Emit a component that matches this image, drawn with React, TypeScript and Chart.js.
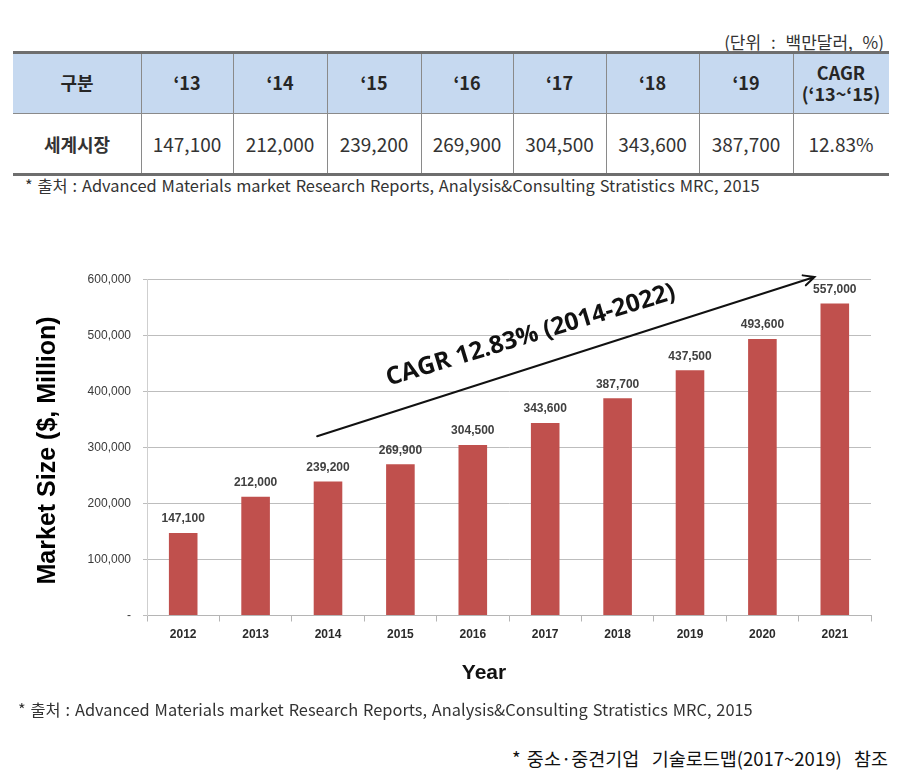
import React, { useEffect, useRef } from 'react';
import { Chart, registerables } from 'chart.js';

Chart.register(...registerables);

// ---------- data ----------
const unitNote = '(단위 : 백만달러, %)';
const tableHeader = ['구분', '‘13', '‘14', '‘15', '‘16', '‘17', '‘18', '‘19', 'CAGR\n(‘13~‘15)'];
const tableRowLabel = '세계시장';
const tableValues = ['147,100', '212,000', '239,200', '269,900', '304,500', '343,600', '387,700', '12.83%'];
const sourceNote = '* 출처 : Advanced Materials market Research Reports, Analysis&Consulting Stratistics MRC, 2015';
const refNote = '* 중소·중견기업  기술로드맵(2017~2019)  참조';

const years = ['2012', '2013', '2014', '2015', '2016', '2017', '2018', '2019', '2020', '2021'];
const marketSize = [147100, 212000, 239200, 269900, 304500, 343600, 387700, 437500, 493600, 557000];
const yAxisTitle = 'Market Size ($, Million)';
const xAxisTitle = 'Year';
const yMin = 0;
const yMax = 600000;
const yStep = 100000;
const cagrLabel = 'CAGR 12.83% (2014-2022)';
// annotation anchors in data space: [category index, value]
const cagrArrowStart = [1.85, 320000];
const cagrArrowEnd = [8.72, 604000];
const cagrLabelAt = [4.8, 500000];

// ---------- layout ----------
const colEdges = [13, 141, 233, 327, 421, 513, 606, 699, 793, 889];
const KR = '"Noto Sans CJK KR", "Noto Sans", sans-serif';
const BAR = '#C0504D';

const annotatePlugin = {
  id: 'annotate',
  afterDatasetsDraw(chart: any) {
    const { ctx, chartArea } = chart;
    const xs = chart.scales.x;
    const ys = chart.scales.y;
    ctx.save();
    // value labels
    const meta = chart.getDatasetMeta(0);
    ctx.font = 'bold 12px "Liberation Sans", Arial, sans-serif';
    ctx.fillStyle = '#404040';
    ctx.textAlign = 'center';
    ctx.textBaseline = 'middle';
    meta.data.forEach((bar: any, i: number) => {
      ctx.fillText(marketSize[i].toLocaleString('en-US'), bar.x, bar.y - 14);
    });
    // arrow
    const x1 = xs.getPixelForValue(cagrArrowStart[0]);
    const y1 = ys.getPixelForValue(cagrArrowStart[1]);
    const x2 = xs.getPixelForValue(cagrArrowEnd[0]);
    const y2 = ys.getPixelForValue(cagrArrowEnd[1]);
    const ang = Math.atan2(y2 - y1, x2 - x1);
    ctx.strokeStyle = '#111';
    ctx.lineWidth = 2;
    ctx.lineCap = 'round';
    ctx.beginPath();
    ctx.moveTo(x1, y1);
    ctx.lineTo(x2, y2);
    const hl = 12;
    ctx.moveTo(x2 - hl * Math.cos(ang - 0.45), y2 - hl * Math.sin(ang - 0.45));
    ctx.lineTo(x2, y2);
    ctx.lineTo(x2 - hl * Math.cos(ang + 0.45), y2 - hl * Math.sin(ang + 0.45));
    ctx.stroke();
    // CAGR label
    const lx = xs.getPixelForValue(cagrLabelAt[0]);
    const ly = ys.getPixelForValue(cagrLabelAt[1]);
    ctx.translate(lx, ly);
    ctx.rotate(ang + 0.015);
    ctx.font = 'bold 24.5px "Open Sans", sans-serif';
    ctx.fillStyle = '#111';
    ctx.fillText(cagrLabel, 0, 0);
    ctx.restore();

    // axis titles
    ctx.save();
    ctx.fillStyle = '#000';
    ctx.textAlign = 'center';
    ctx.textBaseline = 'middle';
    ctx.font = 'bold 25px "Liberation Sans", Arial, sans-serif';
    ctx.translate(48, (chartArea.top + chartArea.bottom) / 2 + 3);
    ctx.rotate(-Math.PI / 2);
    ctx.fillText(yAxisTitle, 0, 0);
    ctx.restore();
    ctx.save();
    ctx.fillStyle = '#111';
    ctx.textAlign = 'center';
    ctx.textBaseline = 'middle';
    ctx.font = 'bold 21px "Liberation Sans", Arial, sans-serif';
    ctx.fillText(xAxisTitle, 484, 433);
    ctx.restore();
  },
};

function BarChart() {
  const ref = useRef<HTMLCanvasElement>(null);
  useEffect(() => {
    if (!ref.current) return;
    const chart = new Chart(ref.current, {
      type: 'bar',
      data: {
        labels: years,
        datasets: [
          {
            data: marketSize,
            backgroundColor: BAR,
            borderWidth: 0,
            barPercentage: 0.395,
            categoryPercentage: 1.0,
          },
        ],
      },
      options: {
        responsive: false,
        animation: false,
        layout: { padding: { left: 0, right: 45, top: 39.3, bottom: 0 } },
        plugins: { legend: { display: false }, tooltip: { enabled: false } },
        scales: {
          x: {
            afterFit: (s: any) => {
              s.height = 84.5;
            },
            grid: { drawOnChartArea: false, drawTicks: true, tickLength: 6, color: '#b5b5b5', offset: true },
            border: { display: true, color: '#b5b5b5' },
            ticks: {
              color: '#2a2a2a',
              padding: 6,
              font: { family: '"Liberation Sans", Arial, sans-serif', size: 12, weight: 'bold' },
            },
          },
          y: {
            min: yMin,
            max: yMax,
            afterFit: (s: any) => {
              s.width = 147;
            },
            grid: { color: '#bdbdbd', tickLength: 4, drawTicks: true },
            border: { display: true, color: '#cfcfcf' },
            ticks: {
              stepSize: yStep,
              padding: 12,
              color: '#3a3a3a',
              font: { family: '"Liberation Sans", Arial, sans-serif', size: 12 },
              callback: (v: any) => (Number(v) === 0 ? '-' : Number(v).toLocaleString('en-US')),
            },
          },
        },
      },
      plugins: [annotatePlugin],
    });
    return () => chart.destroy();
  }, []);
  return (
    <canvas
      ref={ref}
      width={916}
      height={460}
      style={{ position: 'absolute', left: 0, top: 240, width: 916, height: 460 }}
    />
  );
}

function Txt(props: {
  x: number;
  y: number;
  size: number;
  bold?: boolean;
  align?: 'left' | 'right';
  ws?: number;
  children: any;
  color?: string;
}) {
  const { x, y, size, bold, align = 'left', ws = 0, color = '#333' } = props;
  const lh = size * 1.3;
  const style: any = {
    position: 'absolute',
    top: y - lh / 2,
    fontSize: size,
    lineHeight: lh + 'px',
    fontWeight: bold ? 700 : 400,
    color,
    whiteSpace: 'pre',
    wordSpacing: ws,
    fontFamily: KR,
  };
  if (align === 'left') style.left = x;
  else style.right = 916 - x;
  return <div style={style}>{props.children}</div>;
}

function DataTable() {
  const top = 52;
  const mid = 113;
  const bottom = 174;
  const left = colEdges[0];
  const right = colEdges[colEdges.length - 1];
  const cells: any[] = [];
  cells.push(
    <div key="hbg" style={{ position: 'absolute', left, top, width: right - left, height: mid - top, background: '#c6d9f0' }} />
  );
  colEdges.slice(1, -1).forEach((x, i) => {
    cells.push(<div key={'v' + i} style={{ position: 'absolute', left: x, top, width: 1, height: bottom - top, background: '#8a8a8a' }} />);
  });
  cells.push(<div key="hm" style={{ position: 'absolute', left, top: mid, width: right - left, height: 1, background: '#8a8a8a' }} />);
  cells.push(<div key="ht" style={{ position: 'absolute', left, top: top - 1, width: right - left, height: 3, background: '#6e6e6e' }} />);
  cells.push(<div key="hb" style={{ position: 'absolute', left, top: bottom - 1, width: right - left, height: 3, background: '#6e6e6e' }} />);
  tableHeader.forEach((h, i) => {
    const w = colEdges[i + 1] - colEdges[i];
    cells.push(
      <div
        key={'h' + i}
        style={{
          position: 'absolute',
          left: colEdges[i],
          width: w,
          top,
          height: mid - top,
          display: 'flex',
          alignItems: 'center',
          justifyContent: 'center',
          textAlign: 'center',
          whiteSpace: 'pre',
          fontFamily: KR,
          fontWeight: 700,
          fontSize: 18,
          lineHeight: '21px',
          color: '#262626',
        }}
      >
        {h}
      </div>
    );
  });
  const rowVals = [tableRowLabel, ...tableValues];
  rowVals.forEach((v, i) => {
    const w = colEdges[i + 1] - colEdges[i];
    cells.push(
      <div
        key={'b' + i}
        style={{
          position: 'absolute',
          left: colEdges[i],
          width: w,
          top: mid,
          height: bottom - mid,
          display: 'flex',
          alignItems: 'center',
          justifyContent: 'center',
          whiteSpace: 'pre',
          fontFamily: KR,
          fontWeight: i === 0 ? 700 : 400,
          fontSize: i === 0 ? 18 : 19,
          color: '#333',
        }}
      >
        {v}
      </div>
    );
  });
  return <>{cells}</>;
}

export default function App() {
  return (
    <div style={{ position: 'absolute', left: 0, top: 0, width: 916, height: 775, background: '#fff', overflow: 'hidden' }}>
      <Txt x={884} y={42} size={17} ws={6} align="right">{unitNote}</Txt>
      <DataTable />
      <Txt x={25} y={186} size={16.4} ws={1.2}>{sourceNote}</Txt>
      <BarChart />
      <Txt x={18} y={710} size={16.4} ws={1.2}>{sourceNote}</Txt>
      <Txt x={888} y={758} size={18.5} ws={2} align="right" color="#111">{refNote}</Txt>
    </div>
  );
}
